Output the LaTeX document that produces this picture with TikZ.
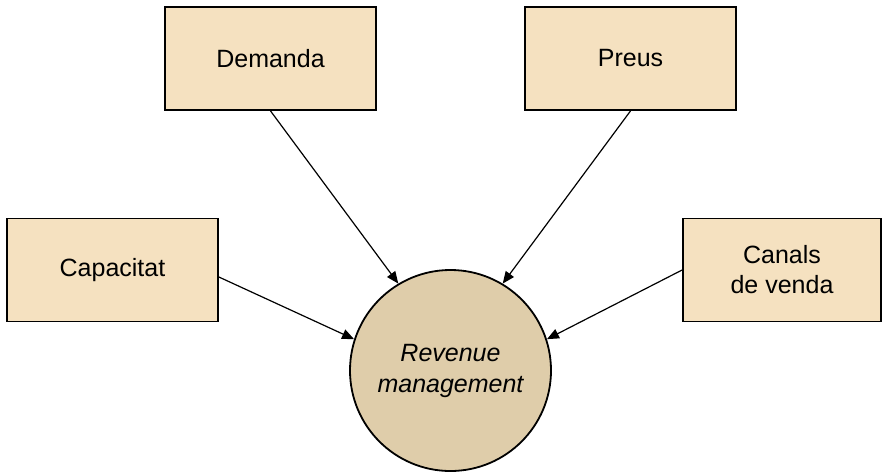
\documentclass[tikz,border=0pt]{standalone}
\usepackage{fontspec}
\setmainfont{Liberation Sans}
\usetikzlibrary{arrows.meta}
\definecolor{boxfill}{HTML}{F5E1C0}
\definecolor{circfill}{HTML}{DFCDAA}
\begin{document}
\begin{tikzpicture}[x=1pt,y=-1pt,
  factor/.style={draw=black,line width=1.8pt,fill=boxfill,minimum width=211pt,minimum height=103pt,align=center,inner sep=0pt,font=\fontsize{25}{30}\selectfont},
  core/.style={circle,draw=black,line width=1.8pt,fill=circfill,minimum size=201pt,inner sep=0pt,align=center,font=\fontsize{25}{31}\selectfont\itshape},
  link/.style={-{Triangle[length=12pt,width=10pt]},line width=1.2pt}]
\useasboundingbox (0,0) rectangle (883,472);
\node[factor] (dem) at (270.5,58.5) {Demanda};
\node[factor] (pre) at (630.5,58.5) {Preus};
\node[factor] (cap) at (112.5,270) {Capacitat};
\node[factor,minimum width=198pt] (can) at (782,270) {Canals\\de venda};
\node[core] (rm) at (450.5,370.5) {Revenue\\management};
\draw[link] (dem.south) -- (rm.121);
\draw[link] (pre.south) -- (rm.59);
\draw[link] ([yshift=-7pt]cap.east) -- (rm.162);
\draw[link] (can.west) -- (rm.18);
\end{tikzpicture}
\end{document}
